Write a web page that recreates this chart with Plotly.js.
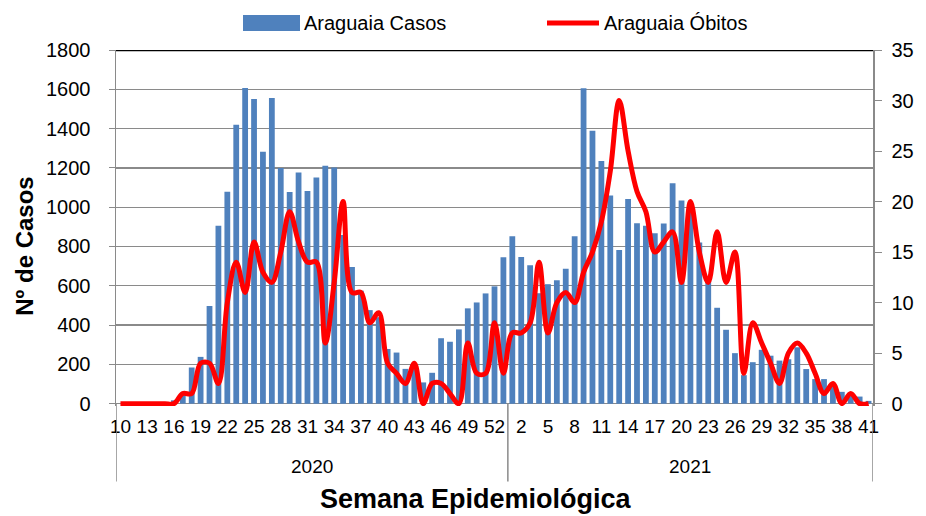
<!DOCTYPE html>
<html><head><meta charset="utf-8">
<script src="https://cdn.plot.ly/plotly-3.0.1.min.js"></script>
<style>html,body{margin:0;padding:0;background:#fff}#chart{width:926px;height:516px}</style>
</head><body><div id="chart"></div>
<script>
const weeks2020 = [10,11,12,13,14,15,16,17,18,19,20,21,22,23,24,25,26,27,28,29,30,31,32,33,34,35,36,37,38,39,40,41,42,43,44,45,46,47,48,49,50,51,52,53];
const weeks2021 = [1,2,3,4,5,6,7,8,9,10,11,12,13,14,15,16,17,18,19,20,21,22,23,24,25,26,27,28,29,30,31,32,33,34,35,36,37,38,39,40,41];
const casos2020 = [0,0,0,0,0,0,17,45,184,238,497,906,1078,1420,1607,1551,1282,1556,1199,1077,1177,1082,1151,1211,1202,858,696,575,476,440,278,260,177,185,108,157,333,315,378,485,515,561,597,745];
const casos2021 = [852,747,705,562,608,628,687,852,1605,1389,1235,1060,782,1041,918,906,867,917,1122,1034,990,820,625,488,376,257,145,211,274,244,219,226,287,176,125,125,94,60,45,36,14];
const obitos2020 = [0,0,0,0,0,0,0,1,1,4,4,2,10,14,11,16,13,12,15,19,16,14,14,6,12,20,11,11,8,9,4,3,2,4,0,2,2,1,0,6,3,3,8,3];
const obitos2021 = [7,7,8,14,7,10,11,10,13,15,18,23,30,25,21,19,15,16,17,12,20,15,12,17,12,15,3,8,6,4,2,5,6,5,3,1,2,0,1,0,0];
const years = ["2020","2021"];
const seriesNames = ["Araguaia Casos","Araguaia Óbitos"];

const weeks = weeks2020.concat(weeks2021);
const casos = casos2020.concat(casos2021);
const obitos = obitos2020.concat(obitos2021);
const xs = weeks.map((w,i)=>i);
const tickvals = xs.filter(i => i % 3 === 0);
const ticktext = tickvals.map(i => String(weeks[i]));
const n20 = weeks2020.length, nAll = weeks.length;

const FONT = "Liberation Sans, Arial, sans-serif";
const GRID = "#8a8a8a";
const plotTop = 50, plotH = 356.4, plotL = 116, plotW = 757;
const py = p => (plotTop + plotH - p) / plotH;
const px = p => (p - plotL) / plotW;

const traces = [
  {type:'bar', x: xs, y: casos, name: seriesNames[0], marker:{color:'#4F81BD'}, showlegend:false, hoverinfo:'y'},
  {type:'scatter', mode:'lines', x: xs, y: obitos, name: seriesNames[1], yaxis:'y2',
   line:{color:'#FF0000', width:5, shape:'spline', smoothing:1}, showlegend:false}
];

const layout = {
  width:926, height:516,
  margin:{l:116, r:53, t:50, b:109.6, pad:0},
  paper_bgcolor:'#fff', plot_bgcolor:'#fff',
  font:{family:FONT, color:'#000', size:19},
  bargap:0.35,
  xaxis:{range:[-0.5, nAll-0.5], tickmode:'array', tickvals:tickvals, ticktext:ticktext,
         showgrid:false, zeroline:false, showline:false, ticks:'', tickangle:0,
         tickfont:{size:19, family:FONT}, ticklabelstandoff:7, fixedrange:true},
  yaxis:{range:[-12,1800], tick0:0, dtick:200, showgrid:true, gridcolor:GRID, gridwidth:1.3,
         zeroline:false, showline:true, linecolor:GRID, linewidth:1.5,
         ticks:'outside', ticklen:6, tickcolor:GRID, tickfont:{size:20, family:FONT}, ticklabelstandoff:14},
  yaxis2:{range:[-12*35/1800,35], tick0:0, dtick:5, overlaying:'y', side:'right', showgrid:false,
          zeroline:false, showline:true, linecolor:GRID, linewidth:1.5,
          ticks:'outside', ticklen:7, tickcolor:GRID, tickfont:{size:20, family:FONT}, ticklabelstandoff:6},
  shapes:[
    {type:'line', xref:'paper', yref:'y', x0:0, x1:1, y0:1800, y1:1800, line:{color:'#000', width:2.5}},
    {type:'line', xref:'x', yref:'paper', x0:-0.5, x1:-0.5, y0:py(404), y1:py(482), line:{color:GRID, width:1.5}},
    {type:'line', xref:'x', yref:'paper', x0:n20-0.5, x1:n20-0.5, y0:py(404), y1:py(482), line:{color:GRID, width:1.5}},
    {type:'line', xref:'x', yref:'paper', x0:nAll-0.5, x1:nAll-0.5, y0:py(404), y1:py(482), line:{color:GRID, width:1.5}},
    {type:'rect', xref:'paper', yref:'paper', x0:px(243), x1:px(300), y0:py(31), y1:py(15), fillcolor:'#4F81BD', line:{width:0}},
    {type:'line', xref:'paper', yref:'paper', x0:px(547), x1:px(599), y0:py(23), y1:py(23), line:{color:'#FF0000', width:5}}
  ],
  annotations:[
    {xref:'paper', yref:'paper', x:px(302), y:py(23), xanchor:'left', yanchor:'middle', text:seriesNames[0], showarrow:false, font:{size:20}},
    {xref:'paper', yref:'paper', x:px(602), y:py(23), xanchor:'left', yanchor:'middle', text:seriesNames[1], showarrow:false, font:{size:20}},
    {xref:'x', yref:'paper', x:(n20-1)/2, y:py(467), xanchor:'center', yanchor:'middle', text:years[0], showarrow:false, font:{size:19}},
    {xref:'x', yref:'paper', x:(n20+nAll-1)/2, y:py(467), xanchor:'center', yanchor:'middle', text:years[1], showarrow:false, font:{size:19}},
    {xref:'paper', yref:'paper', x:px(475.5), y:py(500), xanchor:'center', yanchor:'middle', text:'<b>Semana Epidemiológica</b>', showarrow:false, font:{size:27}},
    {xref:'paper', yref:'paper', x:px(25), y:py(247), xanchor:'center', yanchor:'middle', textangle:-90, text:'<b>Nº de Casos</b>', showarrow:false, font:{size:24}}
  ]
};
Plotly.newPlot('chart', traces, layout, {displayModeBar:false, staticPlot:true});
</script>
</body></html>
